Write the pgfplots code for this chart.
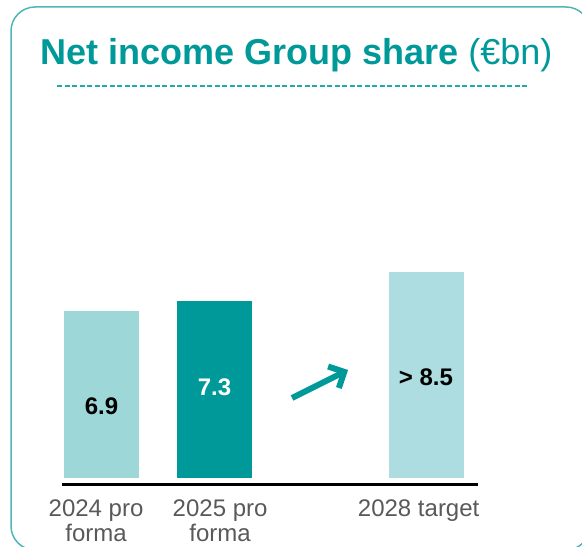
\documentclass[border=0pt]{standalone}
\usepackage{fontspec}
\setmainfont{Liberation Sans}
\usepackage{pgfplots}
\pgfplotsset{compat=1.18}
\usetikzlibrary{arrows.meta}
\definecolor{tealdark}{HTML}{009999}
\definecolor{barA}{HTML}{9DD7D7}
\definecolor{barC}{HTML}{ADDDE0}
\definecolor{bordercol}{HTML}{4DB6B6}
\definecolor{dashcol}{HTML}{22A9A9}
\definecolor{labgray}{HTML}{595959}
\begin{document}
\begin{tikzpicture}
\useasboundingbox (0pt,0pt) rectangle (582pt,547pt);
\draw[bordercol, line width=1.5pt, rounded corners=24pt] (11pt,540pt) rectangle (590pt,-3pt);
\node[anchor=base west, text=tealdark, font=\fontsize{36}{40}\selectfont, inner sep=0pt] at (40pt,482pt) {\textbf{Net income Group share} (€bn)};
\draw[dashcol, line width=2pt, dash pattern=on 5pt off 2.5pt] (57pt,461pt) -- (527pt,461pt);
\begin{axis}[
  at={(62pt,63pt)}, anchor=south west,
  scale only axis, width=416pt, height=248pt,
  xmin=-0.35, xmax=3.33, ymin=-0.25, ymax=10,
  axis x line*=bottom, axis y line=none,
  x axis line style={line width=3pt, black},
  xtick={0,1,2.876}, ytick=\empty,
  major tick length=0pt,
  xticklabels={{\hspace*{-11pt}2024 pro\\\hspace*{-11pt}forma},{\hspace*{11pt}2025 pro\\\hspace*{11pt}forma},{\hspace*{-16pt}\raisebox{-5pt}{2028 target}}},
  xticklabel style={align=center, text=labgray, font=\fontsize{24}{25}\selectfont, yshift=-12pt},
  clip=false,
]
\addplot[ybar, bar width=75pt, bar shift=0pt, fill=barA, draw=none] coordinates {(0,6.9)};
\addplot[ybar, bar width=75pt, bar shift=0pt, fill=tealdark, draw=none] coordinates {(1,7.3)};
\addplot[ybar, bar width=75pt, bar shift=0pt, fill=barC, draw=none] coordinates {(2.876,8.5)};
\end{axis}
\node[font=\fontsize{24}{26}\selectfont\bfseries, text=black] at (101.5pt,141pt) {6.9};
\node[font=\fontsize{24}{26}\selectfont\bfseries, text=white] at (214.5pt,160pt) {7.3};
\node[font=\fontsize{24}{26}\selectfont\bfseries, text=black] at (426pt,170pt) {> 8.5};
\draw[tealdark, line width=6pt, -{Straight Barb[length=12pt, width=24pt, line width=6pt]}] (292pt,149pt) -- (348pt,177pt);
\end{tikzpicture}
\end{document}
